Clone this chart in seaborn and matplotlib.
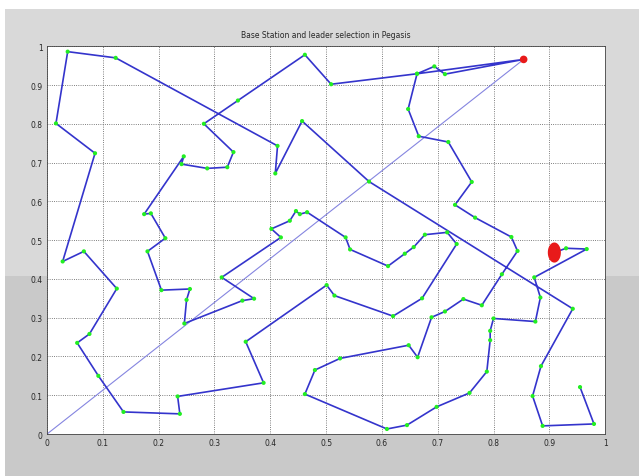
import matplotlib
matplotlib.use('Agg')
import matplotlib.pyplot as plt
import seaborn as sns
import pandas as pd
import numpy as np
from matplotlib.patches import Rectangle

# chain of nodes (PEGASIS), in order
chain_x = [0.955, 0.980, 0.888, 0.870, 0.885, 0.942, 0.577, 0.457, 0.409, 0.413,
           0.123, 0.037, 0.016, 0.086, 0.028, 0.066, 0.125, 0.076, 0.054, 0.092,
           0.137, 0.238, 0.234, 0.388, 0.356, 0.501, 0.515, 0.620, 0.672, 0.734,
           0.717, 0.677, 0.657, 0.641, 0.611, 0.543, 0.535, 0.466, 0.453, 0.446,
           0.435, 0.402, 0.419, 0.313, 0.371, 0.350, 0.246, 0.250, 0.256, 0.205,
           0.180, 0.212, 0.186, 0.174, 0.245, 0.241, 0.287, 0.323, 0.334, 0.281,
           0.342, 0.462, 0.509, 0.663, 0.694, 0.713, 0.854, 0.663, 0.647, 0.666,
           0.719, 0.761, 0.731, 0.767, 0.832, 0.843, 0.815, 0.779, 0.746, 0.713,
           0.689, 0.664, 0.648, 0.525, 0.480, 0.462, 0.609, 0.645, 0.698, 0.757,
           0.788, 0.794, 0.794, 0.800, 0.875, 0.884, 0.873, 0.967, 0.930, 0.909]
chain_y = [0.121, 0.026, 0.021, 0.098, 0.175, 0.323, 0.651, 0.807, 0.672, 0.743,
           0.970, 0.986, 0.801, 0.724, 0.445, 0.471, 0.375, 0.258, 0.235, 0.150,
           0.057, 0.052, 0.097, 0.132, 0.238, 0.384, 0.357, 0.304, 0.350, 0.490,
           0.520, 0.514, 0.482, 0.465, 0.433, 0.476, 0.507, 0.572, 0.567, 0.575,
           0.550, 0.529, 0.507, 0.404, 0.349, 0.344, 0.285, 0.346, 0.374, 0.371,
           0.471, 0.505, 0.569, 0.567, 0.716, 0.696, 0.685, 0.688, 0.727, 0.800,
           0.860, 0.978, 0.902, 0.929, 0.948, 0.928, 0.966, 0.929, 0.838, 0.768,
           0.753, 0.650, 0.591, 0.558, 0.508, 0.472, 0.412, 0.332, 0.348, 0.316,
           0.301, 0.198, 0.229, 0.195, 0.165, 0.103, 0.013, 0.023, 0.070, 0.106,
           0.161, 0.242, 0.266, 0.298, 0.290, 0.352, 0.404, 0.477, 0.479, 0.468]

# leader node and base station
leader_x, leader_y = [0.854], [0.966]
bs_x, bs_y = [0.909], [0.468]
link_x = [0.0, 0.854]
link_y = [0.0, 0.966]

ticks = [0, 0.1, 0.2, 0.3, 0.4, 0.5, 0.6, 0.7, 0.8, 0.9, 1]
tick_labels = ['0', '0.1', '0.2', '0.3', '0.4', '0.5', '0.6', '0.7', '0.8', '0.9', '1']

sns.set_style('white')
plt.rcParams['font.family'] = ['DejaVu Sans']

fig = plt.figure(figsize=(6.39, 4.77), dpi=100)
fig.patch.set_facecolor('white')
fig.add_artist(Rectangle((0.008, 0.419), 0.992, 0.56, transform=fig.transFigure,
                         facecolor='#d9d9d9', edgecolor='none', zorder=-10))
fig.add_artist(Rectangle((0.008, 0.0), 0.992, 0.419, transform=fig.transFigure,
                         facecolor='#c9c9c9', edgecolor='none', zorder=-10))
ax = fig.add_axes([0.0736, 0.088, 0.8734, 0.813])
ax.set_facecolor('white')

# tall ellipse marker for the base station
t = np.linspace(0, 2 * np.pi, 40)
ellipse = list(zip(0.65 * np.cos(t), np.sin(t)))

df = pd.DataFrame({'x': chain_x, 'y': chain_y})
sns.lineplot(data=df, x='x', y='y', sort=False, estimator=None, ax=ax,
             color='#3434cc', linewidth=1.2, zorder=3)
sns.lineplot(x=link_x, y=link_y, sort=False, estimator=None, ax=ax,
             color='#8585e0', linewidth=0.8, zorder=2)
sns.scatterplot(data=df, x='x', y='y', ax=ax, color='#22ee22', s=9,
                edgecolor='none', zorder=4)
sns.scatterplot(x=leader_x, y=leader_y, ax=ax, color='#e81a1a', s=30,
                edgecolor='none', zorder=5)
sns.scatterplot(x=bs_x, y=bs_y, ax=ax, color='#e81a1a', s=210, marker=ellipse,
                edgecolor='none', zorder=5)

ax.set_xlim(0, 1)
ax.set_ylim(0, 1)
ax.set_xticks(ticks)
ax.set_xticklabels(tick_labels)
ax.set_yticks(ticks)
ax.set_yticklabels(tick_labels)
ax.tick_params(direction='in', length=3, labelsize=5.5, pad=3, width=0.5)
ax.grid(True, linestyle=':', color='#555555', linewidth=0.6)
ax.set_xlabel('')
ax.set_ylabel('')
for s in ax.spines.values():
    s.set_color('#444444')
    s.set_linewidth(0.6)
ax.set_title('Base Station and leader selection in Pegasis', fontsize=5.5, pad=7)

fig.savefig('out.png', dpi=100, facecolor=fig.get_facecolor())
